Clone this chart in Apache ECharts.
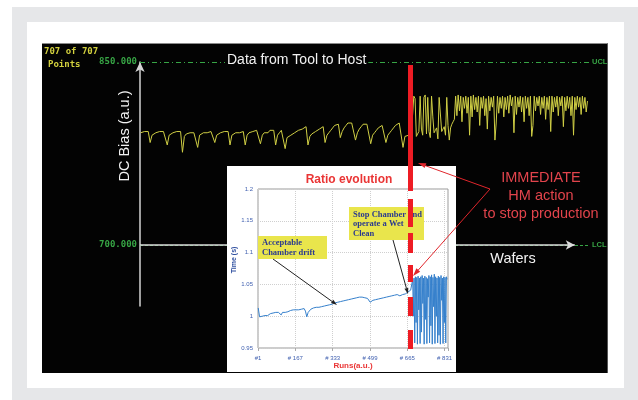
<!DOCTYPE html>
<html><head><meta charset="utf-8">
<script src="https://cdn.jsdelivr.net/npm/echarts@6/dist/echarts.min.js"></script>
<style>
html,body{margin:0;padding:0;background:#fff;}
#wrap{position:relative;width:638px;height:400px;overflow:hidden;}
.f{position:absolute;}
#chart{position:absolute;left:0;top:0;width:638px;height:400px;}
</style></head><body>
<div id="wrap">
<div class="f" style="left:12px;top:7px;width:626px;height:393px;background:#e6e7e9"></div>
<div class="f" style="left:27px;top:22px;width:597px;height:366px;background:#fff"></div>
<div class="f" style="left:42px;top:43px;width:565px;height:329px;background:#030303;border-top:1px solid #8a8a8a;border-right:1px solid #555"></div>
<div id="chart"></div>
</div>
<script>
// ---------- main chart: DC bias per wafer ----------
// wafers 1..421 sampled every 3 wafers, 424..706 every 2 wafers
const wafers = [];
for (let i = 0; i < 141; i++) wafers.push(1 + 3 * i);
for (let j = 0; j < 142; j++) wafers.push(424 + 2 * j);
const dcBias = [
792,792,793,792,793,784,790,791,792,792,
793,792,793,793,782,790,791,792,792,793,
792,793,776,789,791,792,792,793,792,793,
780,790,791,792,793,792,793,793,792,784,
790,791,792,792,793,792,793,782,790,791,
792,793,792,793,793,782,790,792,791,793,
792,794,793,783,790,792,793,792,794,793,
794,782,790,792,794,793,
779,788,789,790,791,792,793,794,795,795,
796,797,782,789,791,792,793,794,795,796,
797,784,790,792,794,796,798,799,799,788,
793,796,798,800,801,800,801,786,792,795,
797,799,800,799,800,783,790,792,794,796,
797,798,798,784,790,792,794,796,798,799,
800,800,780,789,790,
790,792,794,806,822,820,789,791,793,822,
795,790,821,823,791,821,793,788,822,805,
792,794,796,787,821,822,793,795,797,790,
821,798,786,796,799,801,803,
822,806,823,810,822,801,821,812,822,808,
821,790,822,805,823,811,821,809,822,798,
821,812,822,806,820,795,822,810,821,813,
822,786,800,822,808,821,812,822,805,821,
811,822,808,823,814,821,792,822,807,821,
813,822,809,821,801,822,812,821,806,822,
789,798,822,810,821,814,822,807,821,812,
822,803,821,811,822,793,822,809,821,813,
822,806,821,814,822,797,821,810,822,812,
821,806,822,790,821,811,822,813,821,807,
822,812,821,809,818
];
const mainLimits = [850, 700];           // UCL, LCL
const mainLimitNames = ['UCL', 'LCL'];
const mainTickValues = [700, 850];

// ---------- inset: ratio evolution ----------
// runs 1..679 every 6 runs, 685..841 every 3 runs
const runs = [];
for (let k = 0; k < 114; k++) runs.push(1 + 6 * k);
for (let j = 0; j < 53; j++) runs.push(685 + 3 * j);
const ratio = [
1.013,0.999,0.998,1.000,0.999,1.001,1.002,1.001,1.003,1.004,
1.003,1.005,1.004,1.006,1.005,1.006,1.004,1.002,1.006,1.007,
1.006,1.008,1.007,1.008,1.009,1.008,1.010,1.009,1.010,1.011,
1.010,1.012,1.011,1.013,1.012,1.008,0.999,1.006,1.009,1.011,
1.012,1.013,1.012,1.014,1.015,1.014,1.016,1.015,1.017,1.016,
1.018,1.017,1.019,1.018,1.020,1.019,1.020,1.021,1.020,1.022,
1.021,1.023,1.022,1.024,1.023,1.025,1.024,1.026,1.025,1.027,
1.026,1.028,1.027,1.029,1.028,1.030,1.029,1.030,1.031,1.029,
1.030,1.028,1.025,1.022,1.023,1.025,1.024,1.026,1.025,1.027,
1.026,1.028,1.027,1.029,1.028,1.030,1.029,1.031,1.030,1.032,
1.031,1.033,1.032,1.034,1.033,1.032,1.035,1.034,1.036,1.035,
1.037,1.038,1.036,1.041,
1.038,1.058,1.000,1.060,0.958,1.062,0.990,1.061,0.956,1.063,
1.010,1.060,0.957,1.062,0.975,1.064,1.020,1.060,0.956,1.063,
0.995,1.061,0.957,1.059,1.030,1.064,0.958,1.062,0.985,1.065,
0.956,1.061,1.015,1.066,0.957,1.062,1.000,1.060,0.958,1.063,
0.970,1.061,0.956,1.064,1.025,1.060,0.957,1.062,0.990,1.061,
0.958,1.062,1.058
];
const insetXTicks = ['#1', '# 167', '# 333', '# 499', '# 665', '# 831'];
const insetYTicks = ['0.95', '1', '1.05', '1.1', '1.15', '1.2'];
const insetUpper = 1.068, insetTarget = 1.017, insetLower = 0.952;

// ---------- helpers for annotation arrows ----------
function arrow(x1, y1, x2, y2, color, hl, hw, zl, z) {
  const a = Math.atan2(y2 - y1, x2 - x1);
  const bx = x2 - hl * Math.cos(a), by = y2 - hl * Math.sin(a);
  const px = -Math.sin(a) * hw / 2, py = Math.cos(a) * hw / 2;
  return [
    {type: 'line', zlevel: zl, z: z, silent: true, shape: {x1: x1, y1: y1, x2: bx, y2: by}, style: {stroke: color, lineWidth: 1}},
    {type: 'polygon', zlevel: zl, z: z, silent: true, shape: {points: [[x2, y2], [bx + px, by + py], [bx - px, by - py]]}, style: {fill: color}}
  ];
}
function txt(o) {
  return {type: 'text', zlevel: o.zl || 0, z: o.z || 10, silent: true, x: o.x, y: o.y, rotation: o.rot || 0,
    style: Object.assign({text: o.t, font: o.font, fill: o.fill, textAlign: o.align || 'left', textVerticalAlign: o.va || 'middle'}, o.extra || {})};
}

const green = '#37a545';
const redLineSegs = [[65,191],[199,227],[233,253],[265,282],[297,316],[330,349]];
const elements = [];
elements.push({type: 'rect', zlevel: 1, z: 0, silent: true, shape: {x: 227, y: 166, width: 229, height: 206}, style: {fill: '#ffffff'}});
elements.push(txt({t: '707 of 707', x: 44, y: 52, font: 'bold 9px "DejaVu Sans Mono"', fill: '#d2d03e'}));
elements.push(txt({t: 'Points', x: 48, y: 65, font: 'bold 9px "DejaVu Sans Mono"', fill: '#d2d03e'}));
elements.push(txt({t: 'Data from Tool to Host', x: 225, y: 60, font: '14px "Liberation Sans"', fill: '#f2f2f2',
  extra: {backgroundColor: '#030303', padding: [1, 2, 1, 2]}}));
elements.push(txt({t: 'DC Bias (a.u.)', x: 125, y: 136, rot: Math.PI / 2, align: 'center', font: '14.5px "Liberation Sans"', fill: '#f2f2f2'}));
elements.push(txt({t: 'Wafers', x: 513, y: 259, align: 'center', font: '14.5px "Liberation Sans"', fill: '#f2f2f2'}));
elements.push(txt({t: 'IMMEDIATE\nHM action\nto stop production', x: 541, y: 196, align: 'center', font: '14.5px "Liberation Sans"', fill: '#e2444c',
  extra: {lineHeight: 18}}));
elements.push(txt({t: 'Ratio evolution', x: 349, y: 180, align: 'center', font: 'bold 12px "Liberation Sans"', fill: '#ea3535', zl: 1, z: 5}));
elements.push(txt({t: 'Time (s)', x: 234, y: 260, rot: Math.PI / 2, align: 'center', font: 'bold 7px "Liberation Sans"', fill: '#3050a0', zl: 1, z: 5}));
elements.push({type: 'rect', zlevel: 1, z: 10, silent: true, shape: {x: 258, y: 236, width: 69, height: 23}, style: {fill: '#e9e54c'}});
elements.push(txt({t: 'Acceptable\nChamber drift', x: 262, y: 248, font: 'bold 8.5px "Liberation Serif"', fill: '#2b3a8f', zl: 1, z: 11, extra: {lineHeight: 9.5}}));
elements.push({type: 'rect', zlevel: 1, z: 10, silent: true, shape: {x: 349, y: 207, width: 75, height: 33}, style: {fill: '#e9e54c'}});
elements.push(txt({t: 'Stop Chamber and\noperate a Wet\nClean', x: 353, y: 224, font: 'bold 8.5px "Liberation Serif"', fill: '#2b3a8f', zl: 1, z: 11, extra: {lineHeight: 9.5}}));
elements.push(...arrow(273, 259, 337, 305, '#222', 6, 4, 1, 12));
elements.push(...arrow(393, 240, 408, 294, '#222', 6, 4, 1, 12));
redLineSegs.forEach(s => elements.push({type: 'line', zlevel: 2, z: 1, silent: true, shape: {x1: 410.5, y1: s[0], x2: 410.5, y2: s[1]}, style: {stroke: '#ee1c24', lineWidth: 5}}));
elements.push(...arrow(490, 189, 418, 163, '#e0262c', 8, 5, 2, 2));
elements.push(...arrow(490, 189, 413, 276, '#e0262c', 8, 5, 2, 2));

const chart = echarts.init(document.getElementById('chart'), null, {renderer: 'canvas'});
const option = {
  animation: false,
  backgroundColor: 'transparent',
  grid: [
    {left: 140, top: 62, width: 450, height: 244, show: false},
    {left: 258, top: 189, width: 190, height: 159, show: true, backgroundColor: '#fff', borderColor: '#9a9a9a', borderWidth: 1, zlevel: 1, z: 1}
  ],
  xAxis: [
    {gridIndex: 0, type: 'value', min: 0, max: 710, show: false},
    {gridIndex: 1, type: 'value', min: 0, max: 845, interval: 166, zlevel: 1, z: 2,
      axisLine: {show: false},
      axisTick: {show: true, length: 3, lineStyle: {color: '#aaa'}},
      splitLine: {show: true, lineStyle: {color: '#cfcfcf', type: 'dotted'}},
      axisLabel: {fontSize: 6, color: '#4060b0', margin: 7, fontFamily: 'Liberation Sans',
        formatter: v => { const j = Math.round(v / 166); return (Math.abs(v - j * 166) < 0.5 && j < insetXTicks.length) ? insetXTicks[j] : ''; }},
      name: 'Runs(a.u.)', nameLocation: 'middle', nameGap: 14,
      nameTextStyle: {color: '#ea3535', fontWeight: 'bold', fontSize: 8, fontFamily: 'Liberation Sans'}}
  ],
  yAxis: [
    {gridIndex: 0, type: 'value', min: 650, max: 850, interval: 50,
      axisLine: {show: true, symbol: ['none', 'arrow'], symbolSize: [7, 10], lineStyle: {color: '#d4d4d4', width: 1.5}},
      axisTick: {show: false}, splitLine: {show: false},
      axisLabel: {margin: 3, color: green, fontSize: 9, fontWeight: 'bold', fontFamily: 'DejaVu Sans Mono',
        formatter: v => mainTickValues.includes(v) ? v.toFixed(3) : ''}},
    {gridIndex: 1, type: 'value', min: 0.95, max: 1.2, interval: 0.05, zlevel: 1, z: 2,
      axisLine: {show: false}, axisTick: {show: false},
      splitLine: {show: true, lineStyle: {color: '#cfcfcf', type: 'dotted'}},
      axisLabel: {fontSize: 6, color: '#4060b0', margin: 5, fontFamily: 'Liberation Sans',
        formatter: v => { const j = Math.round((v - 0.95) / 0.05); return (Math.abs(v - 0.95 - j * 0.05) < 1e-6) ? (insetYTicks[j] || '') : ''; }}}
  ],
  series: [
    {type: 'line', xAxisIndex: 0, yAxisIndex: 0, showSymbol: false, symbol: 'none',
      data: wafers.map((w, i) => [w, dcBias[i]]),
      lineStyle: {color: '#d0cf45', width: 1}, z: 3,
      markLine: {silent: true, symbol: ['none', 'none'], animation: false,
        data: [
          {yAxis: mainLimits[0], lineStyle: {color: green, width: 1, type: [5, 3, 1, 3]},
            label: {show: true, position: 'end', distance: 2, formatter: mainLimitNames[0], color: green, fontSize: 7.5, fontWeight: 'bold', fontFamily: 'Liberation Sans'}},
          {yAxis: mainLimits[1], lineStyle: {color: green, width: 1.2, type: [3, 2]},
            label: {show: true, position: 'end', distance: 2, formatter: mainLimitNames[1], color: green, fontSize: 7.5, fontWeight: 'bold', fontFamily: 'Liberation Sans'}},
          [{coord: [0, mainLimits[1]], symbol: 'none', lineStyle: {color: '#dcdcdc', width: 1.5, type: 'solid'}, label: {show: false}},
           {coord: [686, mainLimits[1]], symbol: 'arrow', symbolSize: [7, 9]}]
        ]}},
    {type: 'line', xAxisIndex: 1, yAxisIndex: 1, showSymbol: false, symbol: 'none', zlevel: 1, z: 3,
      data: runs.map((r, k) => [r, ratio[k]]),
      lineStyle: {color: '#3580cc', width: 1},
      markLine: {silent: true, symbol: ['none', 'none'], animation: false, label: {show: false},
        data: [
          {yAxis: insetUpper, lineStyle: {color: '#e0705f', width: 1, type: [5, 2, 1, 2]}},
          {yAxis: insetTarget, lineStyle: {color: '#55c255', width: 1, type: [5, 2, 1, 2]}},
          {yAxis: insetLower, lineStyle: {color: '#e06060', width: 1, type: [3, 2]}}
        ]}}
  ],
  graphic: {elements: elements}
};
chart.setOption(option);
</script>
</body></html>
